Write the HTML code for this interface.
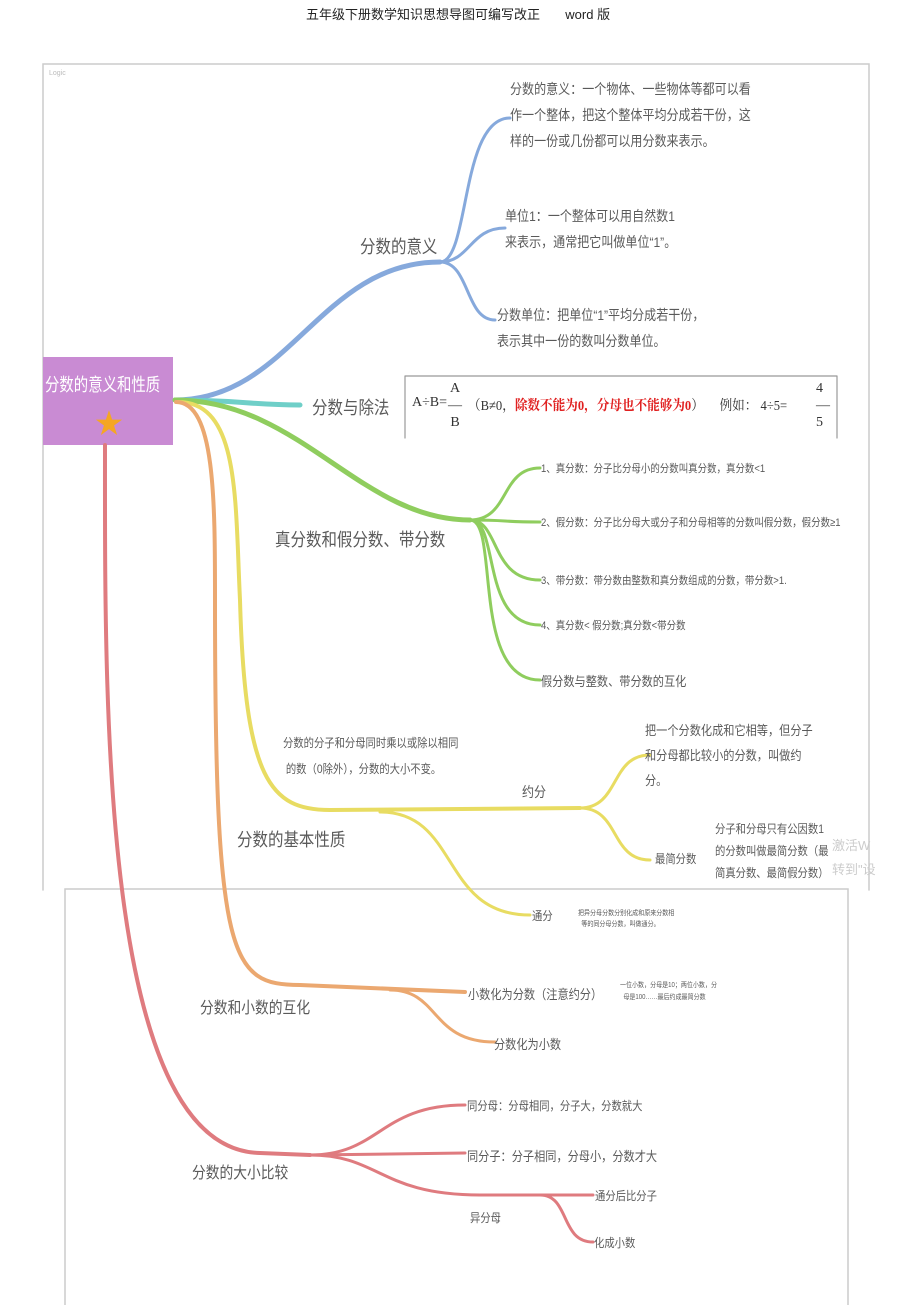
<!DOCTYPE html>
<html><head><meta charset="utf-8"><style>
body{margin:0;width:920px;height:1305px;background:#fff;position:relative;overflow:hidden;font-family:"Liberation Sans","Noto Sans CJK SC",sans-serif;color:#555}
.t{position:absolute;white-space:nowrap;color:#5a5a5a;transform-origin:0 0}
.c{transform:scaleX(0.86)}
</style></head><body>
<div class="t" style="left:306px;top:4px;font-size:13px;color:#222">五年级下册数学知识思想导图可编写改正&nbsp;&nbsp;&nbsp;&nbsp;&nbsp;&nbsp;&nbsp;word 版</div>
<svg width="920" height="1305" style="position:absolute;left:0;top:0" fill="none" stroke-linecap="round">
<path d="M43 890V64H869V890" stroke="#ccc" stroke-width="1.5"/>
<path d="M65 1305V889H848V1305" stroke="#ccc" stroke-width="1.5"/>
<rect x="43" y="357" width="130" height="88" fill="#c98bd3"/>
<g stroke="#86a9dc">
<path d="M175 400C290 400 320 262 440 262" stroke-width="5"/>
<path d="M440 262C470 262 460 118 510 118" stroke-width="3"/>
<path d="M440 262C470 262 470 228 505 228" stroke-width="3"/>
<path d="M440 262C470 262 465 320 495 320" stroke-width="3"/>
</g>
<path d="M175 400C240 400 250 405 300 405" stroke="#6fcfc8" stroke-width="5"/>
<g stroke="#8fcd5e">
<path d="M175 400C300 400 360 520 470 520" stroke-width="5"/>
<path d="M470 520C510 520 500 468 540 468" stroke-width="3"/>
<path d="M470 520C510 520 500 522 540 522" stroke-width="3"/>
<path d="M470 520C500 520 490 580 540 580" stroke-width="3"/>
<path d="M470 520C500 520 480 625 540 625" stroke-width="3"/>
<path d="M470 520C500 520 470 680 540 680" stroke-width="3"/>
</g>
<g stroke="#e8dc62">
<path d="M178 402C240 402 235 500 240 600C245 780 270 810 330 810L580 808" stroke-width="4"/>
<path d="M580 808C620 808 610 755 650 755" stroke-width="3"/>
<path d="M580 808C620 808 610 860 650 860" stroke-width="3"/>
<path d="M380 812C460 812 440 915 530 915" stroke-width="3"/>
</g>
<g stroke="#eba870">
<path d="M176 402C215 402 215 500 215 600C215 960 230 985 300 985L465 992" stroke-width="4"/>
<path d="M390 990C440 990 430 1042 495 1042" stroke-width="3"/>
</g>
<g stroke="#df7b7f">
<path d="M105 445C105 700 100 1150 260 1153L310 1155" stroke-width="4"/>
<path d="M310 1155C380 1155 380 1105 465 1105" stroke-width="3"/>
<path d="M310 1155L465 1153" stroke-width="3"/>
<path d="M310 1155C380 1155 380 1195 480 1195L593 1195" stroke-width="3"/>
<path d="M540 1195C570 1195 560 1242 593 1242" stroke-width="3"/>
</g>
<path d="M405 376H837M405 376V438M837 376V438" stroke="#999" stroke-width="1.2"/>
</svg>
<div class="t c" style="left:45px;top:371px;font-size:18px;color:#fff;transform:scaleX(0.8)">分数的意义和性质</div>
<div class="t" style="left:95px;top:402px;font-size:28px;color:#f5a623">★</div>
<div class="t" style="left:49px;top:70px;font-size:7px;color:#bbb">Logic</div>

<div class="t c" style="left:510px;top:76px;font-size:14px;line-height:26px">分数的意义：一个物体、一些物体等都可以看<br>作一个整体，把这个整体平均分成若干份，这<br>样的一份或几份都可以用分数来表示。</div>
<div class="t c" style="left:505px;top:203px;font-size:14px;line-height:26px">单位1：一个整体可以用自然数1<br>来表示，通常把它叫做单位“1”。</div>
<div class="t c" style="left:497px;top:302px;font-size:14px;line-height:26px">分数单位：把单位“1”平均分成若干份，<br>表示其中一份的数叫分数单位。</div>
<div class="t c" style="left:360px;top:233px;font-size:18px">分数的意义</div>
<div class="t c" style="left:312px;top:394px;font-size:18px">分数与除法</div>
<div class="t" style="left:412px;top:395px;font-size:14px;font-family:'Liberation Serif','Noto Serif CJK SC',serif;color:#333">A÷B=</div>
<div class="t" style="left:448px;top:380px;font-size:14px;font-family:'Liberation Serif',serif;color:#333;line-height:17px;text-align:center">A<br>—<br>B</div>
<div class="t" style="left:468px;top:395px;font-size:14px;font-family:'Liberation Serif','Noto Serif CJK SC',serif;color:#333;transform:scaleX(0.9)">（B≠0，<span style="color:#e02020;font-weight:bold">除数不能为0，分母也不能够为0</span>）&nbsp;&nbsp;&nbsp;&nbsp;&nbsp;例如：&nbsp;4÷5=</div>
<div class="t" style="left:816px;top:380px;font-size:14px;font-family:'Liberation Serif',serif;color:#333;line-height:17px">4<br>—<br>5</div>

<div class="t c" style="left:275px;top:526px;font-size:18px">真分数和假分数、带分数</div>
<div class="t c" style="left:541px;top:460px;font-size:11px">1、真分数：分子比分母小的分数叫真分数，真分数&lt;1</div>
<div class="t c" style="left:541px;top:514px;font-size:11px">2、假分数：分子比分母大或分子和分母相等的分数叫假分数，假分数≥1</div>
<div class="t c" style="left:541px;top:572px;font-size:11px">3、带分数：带分数由整数和真分数组成的分数，带分数&gt;1.</div>
<div class="t c" style="left:541px;top:617px;font-size:11px">4、真分数&lt; 假分数;真分数&lt;带分数</div>
<div class="t c" style="left:541px;top:671px;font-size:13px">假分数与整数、带分数的互化</div>

<div class="t c" style="left:283px;top:730px;font-size:12px;line-height:26px">分数的分子和分母同时乘以或除以相同<br>&nbsp;的数（0除外），分数的大小不变。</div>
<div class="t c" style="left:522px;top:782px;font-size:14px">约分</div>
<div class="t c" style="left:645px;top:718px;font-size:13px;line-height:25px">把一个分数化成和它相等，但分子<br>和分母都比较小的分数，叫做约<br>分。</div>
<div class="t c" style="left:237px;top:826px;font-size:18px">分数的基本性质</div>
<div class="t c" style="left:655px;top:850px;font-size:12px">最简分数</div>
<div class="t c" style="left:715px;top:818px;font-size:12px;line-height:22px">分子和分母只有公因数1<br>的分数叫做最简分数（最<br>简真分数、最简假分数）</div>
<div class="t" style="left:832px;top:834px;font-size:13px;color:#ccc;line-height:24px">激活W<br>转到"设</div>
<div class="t c" style="left:532px;top:907px;font-size:12px">通分</div>
<div class="t c" style="left:578px;top:908px;font-size:7px;line-height:11px">把异分母分数分别化成和原来分数相<br>&nbsp;&nbsp;等的同分母分数，叫做通分。</div>

<div class="t c" style="left:200px;top:994px;font-size:16px">分数和小数的互化</div>
<div class="t c" style="left:468px;top:984px;font-size:13px">小数化为分数（注意约分）</div>
<div class="t c" style="left:620px;top:980px;font-size:7px;line-height:12px">一位小数，分母是10；两位小数，分<br>&nbsp;&nbsp;母是100……最后约成最简分数</div>
<div class="t c" style="left:494px;top:1034px;font-size:13px">分数化为小数</div>

<div class="t c" style="left:192px;top:1159px;font-size:16px">分数的大小比较</div>
<div class="t c" style="left:467px;top:1097px;font-size:12px">同分母：分母相同，分子大，分数就大</div>
<div class="t c" style="left:467px;top:1146px;font-size:13px">同分子：分子相同，分母小，分数才大</div>
<div class="t c" style="left:470px;top:1209px;font-size:12px">异分母</div>
<div class="t c" style="left:595px;top:1187px;font-size:12px">通分后比分子</div>
<div class="t c" style="left:594px;top:1234px;font-size:12px">化成小数</div>
</body></html>
